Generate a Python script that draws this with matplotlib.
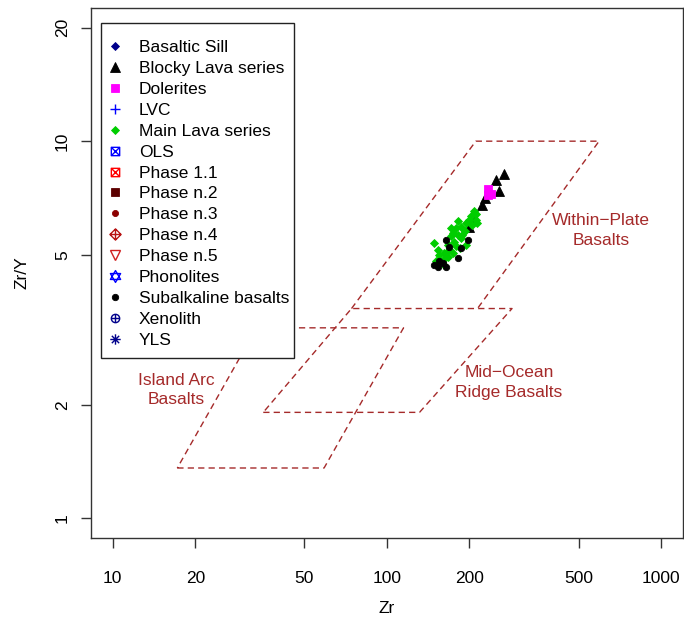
import numpy as np
import matplotlib
matplotlib.use("Agg")
import matplotlib.pyplot as plt
from matplotlib.path import Path
from matplotlib.patches import Rectangle

plt.rcParams['font.family'] = ['Liberation Sans', 'DejaVu Sans']

# ---------------- data ----------------
groups = ["Basaltic Sill", "Blocky Lava series", "Dolerites", "LVC", "Main Lava series",
          "OLS", "Phase 1.1", "Phase n.2", "Phase n.3", "Phase n.4", "Phase n.5",
          "Phonolites", "Subalkaline basalts", "Xenolith", "YLS"]

zr_blocky = [268, 250, 257, 227, 223, 208, 200]
zry_blocky = [8.17, 7.88, 7.37, 7.08, 6.79, 6.26, 5.94]

zr_dol = [233, 240, 234]
zry_dol = [7.45, 7.25, 7.18]

zr_main = [208, 203, 211, 194, 181, 186, 179, 192, 174, 181, 171, 186, 176, 149, 167,
           194, 179, 153, 162, 169, 155, 167, 160, 151, 162, 174, 184, 188, 200, 205,
           214, 172, 211]
zry_main = [6.52, 6.32, 6.19, 6.07, 6.13, 5.94, 5.89, 5.77, 5.71, 5.65, 5.59, 5.54, 5.42,
            5.37, 5.31, 5.31, 5.26, 5.15, 5.05, 5.15, 5.00, 4.94, 4.85, 4.80, 4.70, 5.05,
            5.21, 5.65, 6.19, 6.01, 6.07, 5.90, 6.40]

zr_sub = [164, 197, 168, 187, 181, 149, 155, 160, 164, 153]
zry_sub = [5.48, 5.48, 5.23, 5.21, 4.91, 4.70, 4.80, 4.75, 4.65, 4.65]

# field boundaries (Pearce & Norry 1979)
iab_zr = [17.2, 59.0, 115.0, 33.5]
iab_zry = [1.36, 1.36, 3.2, 3.2]
morb_zr = [35.4, 131.5, 286.0, 74.3]
morb_zry = [1.91, 1.91, 3.6, 3.6]
wpb_zr = [74.3, 211.0, 594.0, 214.0]
wpb_zry = [3.6, 10.0, 10.0, 3.6]

field_labels = ["Island Arc\nBasalts", "Mid\u2212Ocean\nRidge Basalts", "Within\u2212Plate\nBasalts"]
label_zr = [17.1, 279, 604]
label_zry = [2.19, 2.29, 5.80]

xticks = [10, 20, 50, 100, 200, 500, 1000]
yticks = [1, 2, 5, 10, 20]
xrange_ = (10, 1000)
yrange_ = (1, 20)

# ---------------- markers ----------------
M, L, C = Path.MOVETO, Path.LINETO, Path.CLOSEPOLY
sq_x = Path([(-1, -1), (1, -1), (1, 1), (-1, 1), (-1, -1), (-1, -1), (1, 1), (-1, 1), (1, -1)],
            [M, L, L, L, C, M, L, M, L])
dia_plus = Path([(0, -1), (1, 0), (0, 1), (-1, 0), (0, -1), (-1, 0), (1, 0), (0, -1), (0, 1)],
                [M, L, L, L, C, M, L, M, L])
circ_plus = Path.make_compound_path(Path.unit_circle(),
                                    Path([(-1, 0), (1, 0)], [M, L]),
                                    Path([(0, -1), (0, 1)], [M, L]))
s3 = 0.866
star_david = Path([(0, 1), (s3, -0.5), (-s3, -0.5), (0, 1),
                   (0, -1), (s3, 0.5), (-s3, 0.5), (0, -1)],
                  [M, L, L, C, M, L, L, C])
d = 0.707
asterisk = Path([(-1, 0), (1, 0), (0, -1), (0, 1), (-d, -d), (d, d), (-d, d), (d, -d)],
                [M, L, M, L, M, L, M, L])

styles = {
    "Basaltic Sill": dict(marker='D', ms=3.6, color='#00008B', fill=True),
    "Blocky Lava series": dict(marker='^', ms=6.6, color='black', fill=True),
    "Dolerites": dict(marker='s', ms=5.4, color='#FF00FF', fill=True),
    "LVC": dict(marker='+', ms=7.5, color='#0000FF', fill=False),
    "Main Lava series": dict(marker='D', ms=3.8, color='#00CD00', fill=True),
    "OLS": dict(marker=sq_x, ms=6.0, color='#0000FF', fill=False),
    "Phase 1.1": dict(marker=sq_x, ms=6.0, color='#FF0000', fill=False),
    "Phase n.2": dict(marker='s', ms=5.2, color='#5C0000', fill=True),
    "Phase n.3": dict(marker='o', ms=4.4, color='#8B0000', fill=True),
    "Phase n.4": dict(marker=dia_plus, ms=8.0, color='#B81414', fill=False),
    "Phase n.5": dict(marker='v', ms=6.5, color='#D02020', fill=False),
    "Phonolites": dict(marker=star_david, ms=8.5, color='#0000FF', fill=False),
    "Subalkaline basalts": dict(marker='o', ms=4.6, color='black', fill=True),
    "Xenolith": dict(marker=circ_plus, ms=6.0, color='#00008B', fill=False),
    "YLS": dict(marker=asterisk, ms=7.5, color='#00008B', fill=False),
}

data = {
    "Blocky Lava series": (zr_blocky, zry_blocky),
    "Dolerites": (zr_dol, zry_dol),
    "Main Lava series": (zr_main, zry_main),
    "Subalkaline basalts": (zr_sub, zry_sub),
}

# ---------------- figure ----------------
fig = plt.figure(figsize=(6.84, 6.19), dpi=100)
ax = fig.add_axes([0.13275, 0.13086, 0.8658, 0.85622])
ax.set_xscale('log')
ax.set_yscale('log')

def r_lim(lo, hi):
    a, b = np.log10(lo), np.log10(hi)
    e = 0.04 * (b - a)
    return 10 ** (a - e), 10 ** (b + e)

ax.set_xlim(*r_lim(*xrange_))
ax.set_ylim(*r_lim(*yrange_))

fcol = '#A52A2A'
dash = (0, (4.5, 3.0))
ax.plot(iab_zr + iab_zr[:1], iab_zry + iab_zry[:1], color=fcol, lw=1.0, ls=dash)
ax.plot(morb_zr + morb_zr[:1], morb_zry + morb_zry[:1], color=fcol, lw=1.0, ls=dash)
ax.plot(wpb_zr, wpb_zry, color=fcol, lw=1.0, ls=dash)

for txt, x, y in zip(field_labels, label_zr, label_zry):
    ax.text(x, y, txt, color=fcol, fontsize=12.5, ha='center', va='center',
            multialignment='center', linespacing=1.4)

handles = []
for g in groups:
    st = styles[g]
    xs, ys = data.get(g, ([], []))
    h, = ax.plot(xs, ys, ls='none', marker=st['marker'], ms=st['ms'],
                 mec=st['color'], mfc=st['color'] if st['fill'] else 'none',
                 mew=0.6 if st['fill'] else 1.0, label=g)
    handles.append(h)

ax.set_xticks(xticks)
ax.set_xticklabels([str(v) for v in xticks])
ax.set_yticks(yticks)
ax.set_yticklabels([str(v) for v in yticks])
ax.minorticks_off()
ax.tick_params(axis='both', direction='out', length=7.5, width=1.0, labelsize=12.5,
               color='#333333')
ax.tick_params(axis='x', pad=16.5)
ax.tick_params(axis='y', pad=7.5, labelrotation=90)
for lab in ax.get_yticklabels():
    lab.set_va('center')
for sp in ax.spines.values():
    sp.set_linewidth(1.0)
    sp.set_color('#333333')

ax.set_xlabel("Zr", fontsize=12.5)
ax.set_ylabel("Zr/Y", fontsize=12.5)
ax.xaxis.set_label_coords(0.5, -0.1330)
ax.xaxis.label.set_va('center')
ax.yaxis.set_label_coords(-0.1160, 0.5)
ax.yaxis.label.set_va('center')

leg = ax.legend(handles=handles, loc='center left', bbox_to_anchor=(0.0290, 0.6492),
                frameon=False, fontsize=12.5, borderpad=0, borderaxespad=0,
                handlelength=0.8, handletextpad=0.98, labelspacing=0.33, numpoints=1)
ax.add_patch(Rectangle((0.0172, 0.3387), 0.3259, 0.6330, transform=ax.transAxes,
                       fill=True, facecolor='white', edgecolor='#222222', lw=1.0, zorder=4))
leg.set_zorder(5)

fig.savefig("out.png", dpi=100)
